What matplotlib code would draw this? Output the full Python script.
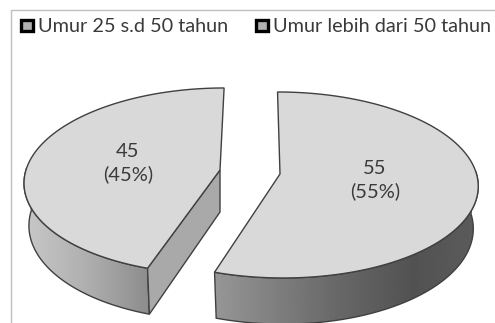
import numpy as np
import matplotlib
matplotlib.use("Agg")
import matplotlib.pyplot as plt
from matplotlib.patches import Polygon, Rectangle

categories = ["Umur 25 s.d 50 tahun", "Umur lebih dari 50 tahun"]
values = [45, 55]
label_pos = [(128, 163), (375, 180)]

W, H = 495, 323
RY = 91.7
K = 0.118     # perspective of the disc
DEPTH = 42
TOP_COL = "#d9d9d9"
EDGE = "#404040"


def rim(cx, cy, rx, theta, skew, bottom=False):
    # point on the projected circle, theta in radians, y pointing down
    w = 1 + K * np.sin(theta)
    x = rx * np.cos(theta) / w
    y = -RY * np.sin(theta) / w
    x = x + skew * y
    if bottom:
        return cx + 0.975 * x, cy + DEPTH + 1.04 * y
    return cx + x, cy + y


def gradient_wall(ax, xs, ys, stops):
    poly = Polygon(np.column_stack([xs, ys]), closed=True, fc="none", ec=EDGE, lw=1.0, zorder=3)
    ax.add_patch(poly)
    pos = np.linspace(0, 1, 256)
    levels = np.interp(pos, [s[0] for s in stops], [s[1] for s in stops])
    im = ax.imshow(levels[None, :], cmap="gray", vmin=0, vmax=255, aspect="auto", zorder=2,
                   extent=(min(xs), max(xs), max(ys), min(ys)))
    im.set_clip_path(poly)


def wedge(ax, cx, cy, rx, a0, a1, skew, wall_stops, inner=None):
    t = np.linspace(a0, a1, 200)
    tx, ty = rim(cx, cy, rx, t, skew)
    bx, by = rim(cx, cy, rx, t, skew, bottom=True)
    # outer wall, only the part facing the viewer
    front = np.sin(t) < 0.03
    gradient_wall(ax, np.r_[tx[front], bx[front][::-1]], np.r_[ty[front], by[front][::-1]], wall_stops)
    if inner is not None:
        # cut face from the apex to the front corner
        ex, ey = rim(cx, cy, rx, inner, skew)
        fx, fy = rim(cx, cy, rx, inner, skew, bottom=True)
        ax.add_patch(Polygon([(cx, cy), (ex, ey), (fx, fy), (cx, cy + DEPTH)], closed=True,
                             fc="#a9a9a9", ec=EDGE, lw=1.0, zorder=3))
    ax.add_patch(Polygon(np.r_[[[cx, cy]], np.column_stack([tx, ty])], closed=True,
                         fc=TOP_COL, ec=EDGE, lw=1.0, zorder=4))


fig = plt.figure(figsize=(W / 100, H / 100), dpi=100)
ax = fig.add_axes([0, 0, 1, 1])
ax.set_xlim(0, W)
ax.set_ylim(H, 0)
ax.axis("off")

# plot frame, left and top only
ax.plot([11, 11, W], [H, 10, 10], color="#c0c0c0", lw=1.0, zorder=1)

total = sum(values)
sweep = [v / total * 2 * np.pi for v in values]
split = np.pi / 2 - sweep[1]

# 55 slice runs clockwise from twelve o'clock
wedge(ax, 280, 174, 196.5, np.pi / 2, split, 0.03,
      [(0, 150), (0.45, 105), (0.75, 82), (1, 92)])
# 45 slice runs counter-clockwise from twelve o'clock
wedge(ax, 220, 170, 194, np.pi / 2, np.pi / 2 + sweep[0], -0.05,
      [(0, 200), (0.5, 175), (1, 140)], inner=split)

for (x, y), v in zip(label_pos, values):
    ax.text(x, y, f"{v}\n({v / total:.0%})", ha="center", va="center", fontsize=14.5,
            family="Lato", color="#3a3a3a", linespacing=1.38, zorder=5)

# legend row
for x, name in zip([21, 256], categories):
    ax.add_patch(Rectangle((x, 20), 12, 11, fc="#b0b0b0", ec="black", lw=2.4, zorder=5))
    ax.text(x + 17, 26, name, ha="left", va="center", fontsize=14.3, family="Lato",
            color="#3a3a3a", zorder=5)

fig.savefig("out.png", dpi=100)
